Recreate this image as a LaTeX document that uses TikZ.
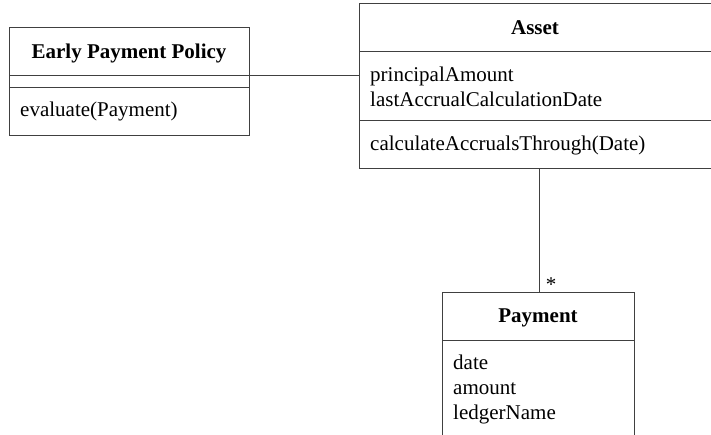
\documentclass[tikz,border=0pt]{standalone}
\usepackage{fontspec}
\setmainfont{Liberation Serif}
\begin{document}
\begin{tikzpicture}[x=1pt,y=-1pt,
  umlbox/.style={draw=black!75, line width=1pt, inner sep=0pt, anchor=north west},
  sep/.style={draw=black!75, line width=1pt},
  conn/.style={draw=black!75, line width=1pt},
  ttl/.style={font=\bfseries\fontsize{21}{25}\selectfont, inner sep=0pt, anchor=base},
  txt/.style={font=\fontsize{21}{25}\selectfont, inner sep=0pt, anchor=base west}]
\useasboundingbox (0,0) rectangle (711,434);
\clip (0,0) rectangle (711,434);
% Early Payment Policy
\node[umlbox, minimum width=240pt, minimum height=108pt] (epp) at (9,27) {};
\node[ttl] (eppT) at (129,58) {Early Payment Policy};
\coordinate (eppD1) at (9,75);
\coordinate (eppD2) at (9,87);
\draw[sep] (eppD1) -- (eppD1 -| epp.east);
\draw[sep] (eppD2) -- (eppD2 -| epp.east);
\node[txt] (eppM1) at (20,116) {evaluate(Payment)};
% Asset
\node[umlbox, minimum width=353pt, minimum height=165pt] (asset) at (359,3) {};
\node[ttl] (assetT) at (535,34) {Asset};
\coordinate (assetD1) at (359,51);
\coordinate (assetD2) at (359,120);
\draw[sep] (assetD1) -- (assetD1 -| asset.east);
\draw[sep] (assetD2) -- (assetD2 -| asset.east);
\node[txt] (assetA1) at (370,81) {principalAmount};
\node[txt] (assetA2) at (370,106) {lastAccrualCalculationDate};
\node[txt] (assetM1) at (370,150) {calculateAccrualsThrough(Date)};
% Payment
\node[umlbox, minimum width=192pt, minimum height=160pt] (pay) at (442,292) {};
\node[ttl] (payT) at (538,322) {Payment};
\coordinate (payD1) at (442,340);
\draw[sep] (payD1) -- (payD1 -| pay.east);
\node[txt] (payA1) at (453,369) {date};
\node[txt] (payA2) at (453,394) {amount};
\node[txt] (payA3) at (453,419) {ledgerName};
% connectors
\draw[conn] (eppD1 -| epp.east) -- (eppD1 -| asset.west);
\coordinate (payTop) at (539,292);
\draw[conn] (payTop) -- (payTop |- asset.south);
\node[font=\fontsize{21}{25}\selectfont, inner sep=0pt, anchor=base] (star) at (551,291) {*};
\end{tikzpicture}
\end{document}
